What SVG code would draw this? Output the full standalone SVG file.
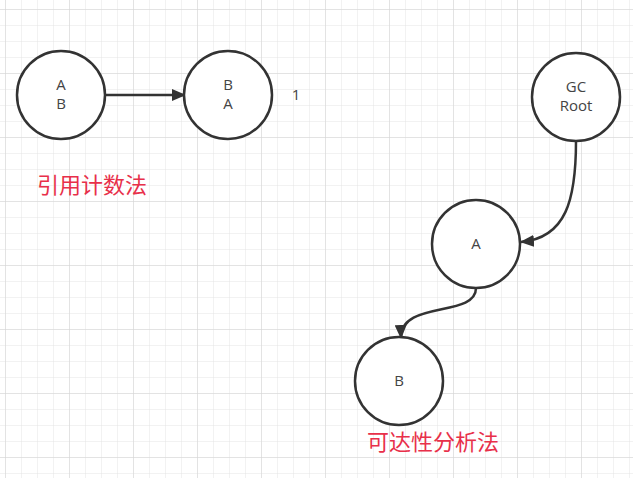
<svg xmlns="http://www.w3.org/2000/svg" width="633" height="478" viewBox="0 0 633 478">
<defs>
<pattern id="g" width="16" height="16" patternUnits="userSpaceOnUse" x="6" y="10"><path d="M16 0V16H0" fill="none" stroke="#e4e4e4" stroke-width="1"/></pattern>
<pattern id="G" width="64" height="64" patternUnits="userSpaceOnUse" x="6" y="10"><path d="M64 0V64H0" fill="none" stroke="#d4d4d4" stroke-width="1"/></pattern>
<marker id="ar" viewBox="0 0 14 12" refX="13" refY="6" markerWidth="14" markerHeight="12" markerUnits="userSpaceOnUse" orient="auto"><path d="M0 0L14 6L0 12z" fill="#333"/></marker>
</defs>
<style>
circle{fill:#fff;stroke:#333;stroke-width:2.5}
.t{font-family:"Open Sans","Liberation Sans",sans-serif;font-size:15px;fill:#444;text-anchor:middle}
.r{font-family:"Noto Sans CJK SC",sans-serif;font-size:22px;fill:#e8304a}
.c{fill:none;stroke:#333;stroke-width:2.5;marker-end:url(#ar)}
</style>
<rect width="633" height="478" fill="#fff"/>
<rect width="633" height="478" fill="url(#g)"/>
<rect width="633" height="478" fill="url(#G)"/>
<g id="connectors">
<path class="c" d="M105 95H185"/>
<path class="c" d="M576 141C576 200 566 238 521 242"/>
<path class="c" d="M476 288C476 318 400 300 401 338"/>
</g>
<g id="n1"><circle cx="61" cy="95" r="44"/><text class="t" x="61" y="90">A</text><text class="t" x="61" y="109">B</text></g>
<g id="n2"><circle cx="228" cy="95" r="44"/><text class="t" x="228" y="90">B</text><text class="t" x="228" y="109">A</text></g>
<text class="t" x="296" y="100">1</text>
<g id="gc"><circle cx="576" cy="97" r="44"/><text class="t" x="576" y="92">GC</text><text class="t" x="576" y="111">Root</text></g>
<g id="a"><circle cx="476" cy="244" r="44"/><text class="t" x="476" y="249">A</text></g>
<g id="b"><circle cx="399" cy="381" r="44"/><text class="t" x="399" y="386">B</text></g>
<text class="r" x="37" y="193">引用计数法</text>
<text class="r" x="367" y="450">可达性分析法</text>
</svg>
